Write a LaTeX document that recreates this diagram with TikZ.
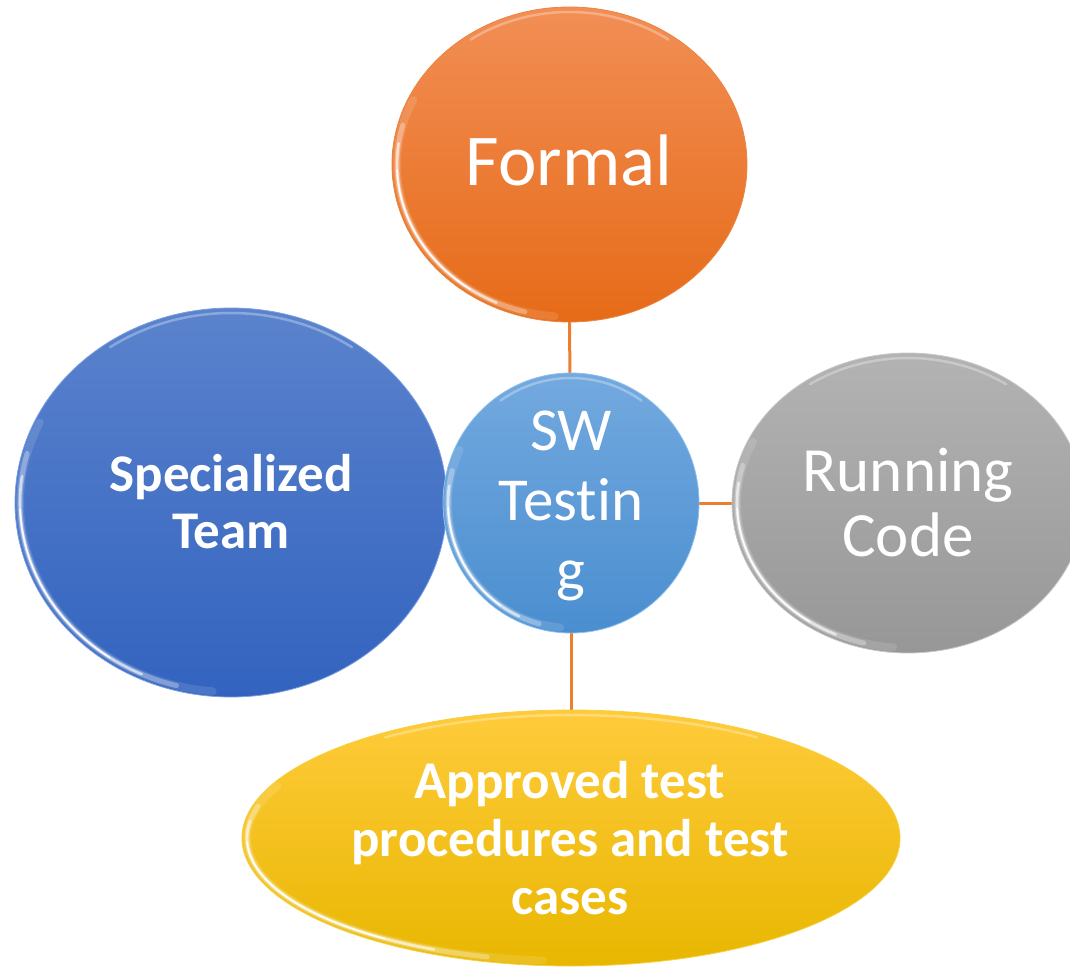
\documentclass[tikz,border=0pt]{standalone}
\usepackage{fontspec}
\setmainfont{Carlito}[Ligatures=NoCommon]
\usetikzlibrary{shapes.geometric}
\pgfdeclarelayer{bg}
\pgfsetlayers{bg,main}

\definecolor{link}{HTML}{ED7D31}
\definecolor{orTop}{HTML}{F28E55}
\definecolor{orBot}{HTML}{E66B18}
\definecolor{orEdge}{HTML}{E9853F}
\definecolor{ctTop}{HTML}{73A9DF}
\definecolor{ctBot}{HTML}{4A8ED0}
\definecolor{ctEdge}{HTML}{8EC0EC}
\definecolor{spTop}{HTML}{5B83CD}
\definecolor{spBot}{HTML}{3263BF}
\definecolor{spEdge}{HTML}{7B9FE0}
\definecolor{rcTop}{HTML}{B3B3B3}
\definecolor{rcBot}{HTML}{979797}
\definecolor{rcEdge}{HTML}{C8C8C8}
\definecolor{apTop}{HTML}{FFCB3C}
\definecolor{apBot}{HTML}{E8B700}
\definecolor{apEdge}{HTML}{F7D040}

\tikzset{
  bubble/.style={ellipse, inner sep=0pt, outer sep=0pt, line width=0.8pt},
  conn/.style={draw=link, line width=3pt},
  lbl/.style={text=white, inner sep=0pt, align=center},
}

% glossy rim: lower-left white highlight and a faint top highlight
\newcommand\shine[4]{%
  \pgfmathsetmacro\rxa{#3-5}\pgfmathsetmacro\rya{#4-5}%
  \foreach \a/\b/\w/\o in {95/205/8/0.12, 105/195/5/0.3, 115/188/2.6/0.6, 125/178/1.4/0.95}{%
    \draw[white, line width=\w pt, opacity=\o, line cap=round]
      plot[domain=\a:\b, samples=50, smooth] ({#1+\rxa*cos(\x)},{#2+\rya*sin(\x)});
  }%
  \draw[white, line width=2.5pt, opacity=0.3, line cap=round]
    plot[domain=235:305, samples=40, smooth] ({#1+\rxa*cos(\x)},{#2+\rya*sin(\x)});
}

\begin{document}
\begin{tikzpicture}[x=1pt, y=-1pt]
\useasboundingbox (0,0) rectangle (1070,968);
\clip (0,0) rectangle (1070,968);

% outer bubbles
\node[bubble, minimum width=355pt, minimum height=315pt,
      top color=orTop, bottom color=orBot, draw=orEdge] (formal) at (569.5,164.5) {};
\shine{569.5}{164.5}{177.5}{157.5}
\node[lbl, font=\fontsize{73}{80}\selectfont, anchor=base] (formalTxt) at (569,186) {Formal};

\node[bubble, minimum width=352pt, minimum height=300pt,
      top color=rcTop, bottom color=rcBot, draw=rcEdge] (running) at (908,503) {};
\shine{908}{503}{176}{150}
\node[lbl, font=\fontsize{63}{65}\selectfont] (runningTxt) at (908,503) {Running\\Code};

\node[bubble, minimum width=658pt, minimum height=256pt,
      top color=apTop, bottom color=apBot, draw=apEdge] (approved) at (571,838) {};
\shine{571}{838}{329}{128}
\node[lbl, font=\fontsize{53}{58}\selectfont\bfseries] (approvedTxt) at (570,838)
  {Approved test\\procedures and test\\cases};

\node[bubble, minimum width=432pt, minimum height=389pt,
      top color=spTop, bottom color=spBot, draw=spEdge] (team) at (231,502.5) {};
\shine{231}{502.5}{216}{194.5}
\node[lbl, font=\fontsize{53}{57}\selectfont\bfseries] (teamTxt) at (231,502)
  {Specialized\\Team};

% central bubble
\node[bubble, minimum width=256pt, minimum height=260pt,
      top color=ctTop, bottom color=ctBot, draw=ctEdge] (sw) at (571,503) {};
\shine{571}{503}{128}{130}
\node[lbl, font=\fontsize{61}{70}\selectfont] (swTxt) at (571,506)
  {SW\\Testin\\g};

% connectors behind the bubbles
\begin{pgfonlayer}{bg}
  \draw[conn] (sw.center) -- (formal.south);
  \draw[conn] (sw.center) -- (running.west);
  \draw[conn] (sw.center) -- (approved.north);
  \draw[conn] (sw.center) -- (team.east);
\end{pgfonlayer}
\end{tikzpicture}
\end{document}
